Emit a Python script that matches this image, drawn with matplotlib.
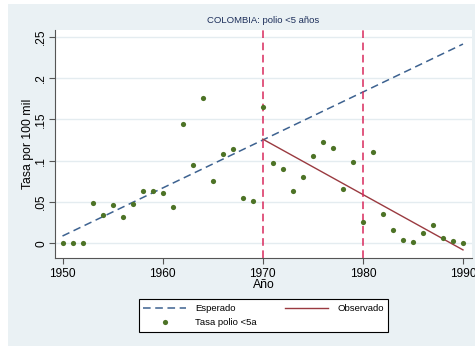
import numpy as np
import matplotlib
matplotlib.use("Agg")
import matplotlib.pyplot as plt
from matplotlib.patches import Rectangle

plt.rcParams['font.family'] = ['Liberation Sans', 'DejaVu Sans']

# tasa de polio <5 años por 100 mil, Colombia
years = list(range(1950, 1991))
rate = [0.0, 0.0, 0.0, 0.0488, 0.034, 0.046, 0.0315, 0.0476, 0.0633, 0.063,
        0.0613, 0.0436, 0.144, 0.095, 0.176, 0.075, 0.1077, 0.1138, 0.0552, 0.0516,
        0.1654, 0.0968, 0.090, 0.063, 0.0803, 0.106, 0.1226, 0.115, 0.0657, 0.0984,
        0.0258, 0.111, 0.0358, 0.0165, 0.0036, 0.0012, 0.0125, 0.0218, 0.006, 0.0031,
        0.0007]

# tendencias
exp_years = [1950, 1990]
exp_vals = [0.0088, 0.241]
obs_years = [1970, 1990]
obs_vals = [0.126, -0.008]
vlines = [1970, 1980]

yticks = [0, 0.05, 0.1, 0.15, 0.2, 0.25]
ytick_labels = ['0', '.05', '.1', '.15', '.2', '.25']
xticks = [1950, 1960, 1970, 1980, 1990]

W, H = 475, 347
fig = plt.figure(figsize=(W / 100, H / 100), dpi=100)
fig.patch.set_facecolor('white')
bg = Rectangle((8 / W, 1 - 346 / H), (W - 8) / W, (346 - 4) / H,
               transform=fig.transFigure, facecolor='#eaf1f4',
               edgecolor='none', zorder=-10)
fig.add_artist(bg)

ax = fig.add_axes([55 / W, 1 - 258 / H, (472 - 55) / W, (258 - 30) / H])
ax.set_zorder(1)
ax.set_facecolor('white')

grid_c = '#e4ecf0'
for t in yticks:
    ax.axhline(t, color=grid_c, lw=1.0, zorder=0)

ax.plot(exp_years, exp_vals, color='#3d6290', lw=1.1, ls=(0, (5, 3)), zorder=2,
        label='Esperado')
ax.plot(obs_years, obs_vals, color='#9a3a40', lw=1.0, zorder=2, label='Observado')
for v in vlines:
    ax.axvline(v, color='#d92a5c', lw=1.1, ls=(0, (5, 3)), zorder=2)
ax.scatter(years, rate, s=14, color='#4d7326', zorder=3, label='Tasa polio <5a',
           linewidths=0)

ax.set_xlim(1949.25, 1990.9)
ax.set_ylim(-0.0178, 0.258)
ax.set_xticks(xticks)
ax.set_yticks(yticks)
ax.set_yticklabels(ytick_labels, rotation=90, va='center')
ax.tick_params(axis='both', labelsize=8.6, length=4.5, width=0.8, color='#555555',
               labelcolor='black', pad=3)
ax.tick_params(axis='y', pad=1.2)

for s in ['top', 'right']:
    ax.spines[s].set_visible(False)
for s in ['left', 'bottom']:
    ax.spines[s].set_color('#555555')
    ax.spines[s].set_linewidth(0.8)

ax.set_xlabel('Año', fontsize=8.8)
ax.set_ylabel('Tasa por 100 mil', fontsize=8.8)
ax.yaxis.set_label_coords(-0.065, 0.5)
ax.xaxis.set_label_coords(0.5, -0.118)
ax.xaxis.label.set_va('center')
ax.yaxis.label.set_va('center')
ax.set_title('COLOMBIA: polio <5 años', fontsize=6.8, color='#1c2e5a', pad=5)

h, l = ax.get_legend_handles_labels()
order = [0, 2, 1]
leg = fig.legend([h[i] for i in order], [l[i] for i in order], ncol=2,
                 loc='center', bbox_to_anchor=(263.5 / W, 1 - 315.5 / H),
                 bbox_transform=fig.transFigure, fontsize=6.8, frameon=True,
                 fancybox=False, edgecolor='black', framealpha=1,
                 handlelength=4.5, columnspacing=3.0, borderpad=0.5,
                 labelspacing=0.5, handletextpad=1.0)
leg.get_frame().set_linewidth(0.8)
leg.set_zorder(2)

fig.savefig('out.png', dpi=100)
